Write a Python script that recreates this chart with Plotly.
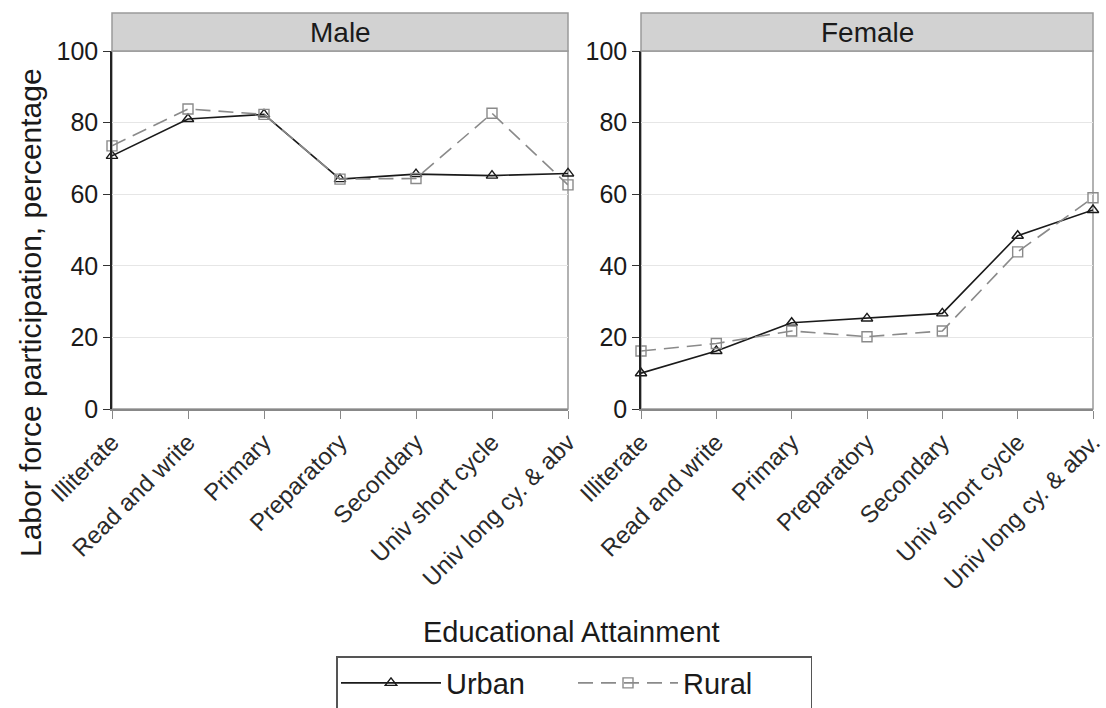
import plotly.graph_objects as go

# Education levels (x categories) and tick labels per panel
levels = ["Illiterate", "Read and write", "Primary", "Preparatory",
          "Secondary", "Univ short cycle", "Univ long cy. & abv"]
levels_female = ["Illiterate", "Read and write", "Primary", "Preparatory",
                 "Secondary", "Univ short cycle", "Univ long cy. & abv."]

# Labor force participation (%) by sex and area
male_urban = [70.7, 81.0, 82.3, 64.2, 65.6, 65.2, 65.8]
male_rural = [73.5, 83.8, 82.3, 64.2, 64.4, 82.6, 62.6]
female_urban = [10.0, 16.2, 24.1, 25.3, 26.7, 48.4, 55.6]
female_rural = [16.2, 18.3, 21.8, 20.2, 21.8, 43.9, 59.0]

y_ticks = [0, 20, 40, 60, 80, 100]

W, H = 1106, 708
FONT = "Liberation Sans, Arial, sans-serif"
TXT = "#1a1a1a"

def px_x(p):
    return p / W

def px_y(p):
    return 1 - p / H

# panel geometry (pixels)
left_dom = [px_x(112), px_x(568)]
right_dom = [px_x(641), px_x(1093)]
y_dom = [px_y(409), px_y(51)]

xpos = list(range(len(levels)))

urban_style = dict(mode="lines+markers",
                   line=dict(color="#1a1a1a", width=1.6),
                   marker=dict(symbol="triangle-up-open", size=10,
                               color="#1a1a1a", line=dict(width=1.4)),
                   cliponaxis=False)
rural_style = dict(mode="lines+markers",
                   line=dict(color="#8a8a8a", width=1.6, dash="15px,8px"),
                   marker=dict(symbol="square-open", size=10,
                               color="#8a8a8a", line=dict(width=1.4)),
                   cliponaxis=False)

fig = go.Figure()
fig.add_trace(go.Scatter(x=xpos, y=male_urban, name="Urban", xaxis="x", yaxis="y",
                         legendgroup="u", **urban_style))
fig.add_trace(go.Scatter(x=xpos, y=male_rural, name="Rural", xaxis="x", yaxis="y",
                         legendgroup="r", **rural_style))
fig.add_trace(go.Scatter(x=xpos, y=female_urban, name="Urban", xaxis="x2", yaxis="y2",
                         legendgroup="u", showlegend=False, **urban_style))
fig.add_trace(go.Scatter(x=xpos, y=female_rural, name="Rural", xaxis="x2", yaxis="y2",
                         legendgroup="r", showlegend=False, **rural_style))

def xaxis(domain, labels, anchor):
    return dict(domain=domain, anchor=anchor, range=[0, len(labels) - 1],
                automargin=False,
                tickmode="array", tickvals=xpos, ticktext=labels,
                tickangle=-45, ticks="outside", ticklen=8, tickcolor="#888",
                showline=True, linecolor="#888", linewidth=1.5,
                showgrid=False, zeroline=False,
                tickfont=dict(family=FONT, size=24, color="#2a2a2a"))

def yaxis(anchor):
    return dict(domain=y_dom, anchor=anchor, range=[0, 100],
                automargin=False,
                tickmode="array", tickvals=y_ticks,
                ticks="outside", ticklen=7, tickcolor="#333",
                showline=True, linecolor="#222", linewidth=1.5,
                showgrid=True, gridcolor="#e6e6e6", gridwidth=1.2,
                zeroline=False,
                tickfont=dict(family=FONT, size=25, color=TXT))

shapes = []
annotations = []
for dom, title in [(left_dom, "Male"), (right_dom, "Female")]:
    # panel frame
    shapes.append(dict(type="rect", xref="paper", yref="paper",
                       x0=dom[0], x1=dom[1], y0=y_dom[0], y1=y_dom[1],
                       line=dict(color="#999", width=1.5), layer="below"))
    # strip header
    shapes.append(dict(type="rect", xref="paper", yref="paper",
                       x0=dom[0], x1=dom[1], y0=y_dom[1], y1=px_y(13),
                       fillcolor="#d2d2d2", line=dict(color="#9a9a9a", width=1.5)))
    annotations.append(dict(text=title, xref="paper", yref="paper",
                            x=(dom[0] + dom[1]) / 2, y=(y_dom[1] + px_y(13)) / 2,
                            xanchor="center", yanchor="middle", showarrow=False,
                            font=dict(family=FONT, size=28, color=TXT)))

annotations.append(dict(text="Labor force participation, percentage",
                        xref="paper", yref="paper", x=px_x(30), y=px_y(313),
                        xanchor="center", yanchor="middle", textangle=-90,
                        showarrow=False, font=dict(family=FONT, size=30, color=TXT)))
annotations.append(dict(text="Educational Attainment",
                        xref="paper", yref="paper", x=px_x(571), y=px_y(632),
                        xanchor="center", yanchor="middle",
                        showarrow=False, font=dict(family=FONT, size=29, color=TXT)))

fig.update_layout(
    width=W, height=H,
    template="none",
    margin=dict(l=0, r=0, t=0, b=0, autoexpand=False),
    paper_bgcolor="white", plot_bgcolor="white",
    xaxis=xaxis(left_dom, levels, "y"),
    yaxis=yaxis("x"),
    xaxis2=xaxis(right_dom, levels_female, "y2"),
    yaxis2=yaxis("x2"),
    shapes=shapes,
    annotations=annotations,
    showlegend=True,
    legend=dict(orientation="h", x=px_x(574), xanchor="center",
                y=px_y(656), yanchor="top",
                bordercolor="#555", borderwidth=1.5, bgcolor="white",
                itemwidth=100, entrywidth=122, entrywidthmode="pixels",
                font=dict(family=FONT, size=29, color=TXT)),
)

fig.write_html("out.html")
